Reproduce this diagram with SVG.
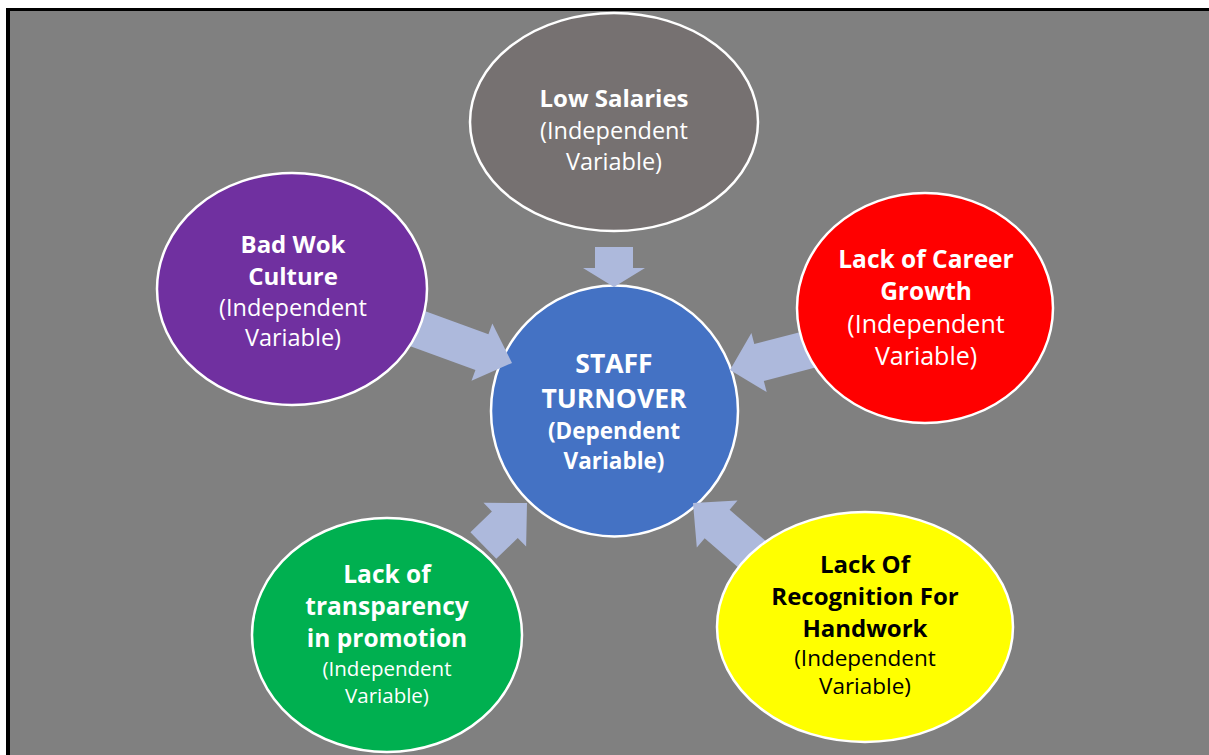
<svg xmlns="http://www.w3.org/2000/svg" width="1209" height="755" viewBox="0 0 1209 755">
  <style>
    .node { stroke: #ffffff; stroke-width: 2.5; }
    .arrow { fill: #adb9dc; }
    text { font-family: "Open Sans", "Liberation Sans", sans-serif; text-anchor: middle; }
    .b { font-weight: 700; }
    .w { fill: #ffffff; }
    .k { fill: #000000; }
  </style>

  <!-- page frame -->
  <rect x="0" y="0" width="1209" height="755" fill="#ffffff"/>
  <rect x="6" y="8" width="1203" height="747" fill="#000000"/>
  <rect x="10" y="11" width="1199" height="744" fill="#808080"/>

  <!-- central dependent variable -->
  <g id="staff-turnover">
    <ellipse class="node" cx="614.5" cy="411" rx="123.5" ry="125.5" fill="#4472c4"/>
    <text class="b w" x="614" y="373" font-size="26.5">STAFF</text>
    <text class="b w" x="614" y="408" font-size="26.5">TURNOVER</text>
    <text class="b w" x="614" y="439" font-size="22.5">(Dependent</text>
    <text class="b w" x="614" y="469" font-size="22.5">Variable)</text>
  </g>

  <!-- block arrows pointing at the centre -->
  <g id="connectors">
    <polygon class="arrow" points="595,247 633,247 633,268 645,268 614,287 583,268 595,268"/>
    <polygon class="arrow" transform="translate(512,363) rotate(20)" points="-110,-19 -32,-19 -32,-30.5 0,0 -32,30.5 -32,19 -110,19"/>
    <polygon class="arrow" transform="translate(730,370) rotate(165.5)" points="-105,-19 -30,-19 -30,-30.5 0,0 -30,30.5 -30,19 -105,19"/>
    <polygon class="arrow" transform="translate(527,503) rotate(-44.3)" points="-61,-18.5 -31,-18.5 -31,-30.5 0,0 -31,30.5 -31,18.5 -61,18.5"/>
    <polygon class="arrow" transform="translate(693,503) rotate(221)" points="-110,-19 -32,-19 -32,-31 0,0 -32,31 -32,19 -110,19"/>
  </g>

  <g id="low-salaries">
    <ellipse class="node" cx="614" cy="122" rx="144" ry="109" fill="#767171"/>
    <text class="b w" x="614" y="107" font-size="24">Low Salaries</text>
    <text class="w" x="614" y="139" font-size="23.5">(Independent</text>
    <text class="w" x="614" y="170" font-size="23.5">Variable)</text>
  </g>

  <g id="bad-work-culture">
    <ellipse class="node" cx="292" cy="289" rx="135" ry="116" fill="#7030a0"/>
    <text class="b w" x="293" y="253" font-size="24">Bad Wok</text>
    <text class="b w" x="293" y="285" font-size="24">Culture</text>
    <text class="w" x="293" y="316" font-size="23.5">(Independent</text>
    <text class="w" x="293" y="346" font-size="23.5">Variable)</text>
  </g>

  <g id="career-growth">
    <ellipse class="node" cx="925" cy="308" rx="128" ry="115" fill="#ff0000"/>
    <text class="b w" x="926" y="268" font-size="24.5">Lack of Career</text>
    <text class="b w" x="926" y="300" font-size="24.5">Growth</text>
    <text class="w" x="926" y="333" font-size="25">(Independent</text>
    <text class="w" x="926" y="365" font-size="25">Variable)</text>
  </g>

  <g id="promotion-transparency">
    <ellipse class="node" cx="387" cy="635" rx="135" ry="117" fill="#00b050"/>
    <text class="b w" x="387" y="583" font-size="24.5">Lack of</text>
    <text class="b w" x="387" y="615" font-size="24.5">transparency</text>
    <text class="b w" x="387" y="647" font-size="24.5">in promotion</text>
    <text class="w" x="387" y="676" font-size="20.5">(Independent</text>
    <text class="w" x="387" y="703" font-size="20.5">Variable)</text>
  </g>

  <g id="recognition">
    <ellipse class="node" cx="865" cy="627" rx="148" ry="115" fill="#ffff00"/>
    <text class="b k" x="865" y="573" font-size="24">Lack Of</text>
    <text class="b k" x="865" y="605" font-size="24">Recognition For</text>
    <text class="b k" x="865" y="637" font-size="24">Handwork</text>
    <text class="k" x="865" y="666" font-size="22.5">(Independent</text>
    <text class="k" x="865" y="694" font-size="22.5">Variable)</text>
  </g>
</svg>
